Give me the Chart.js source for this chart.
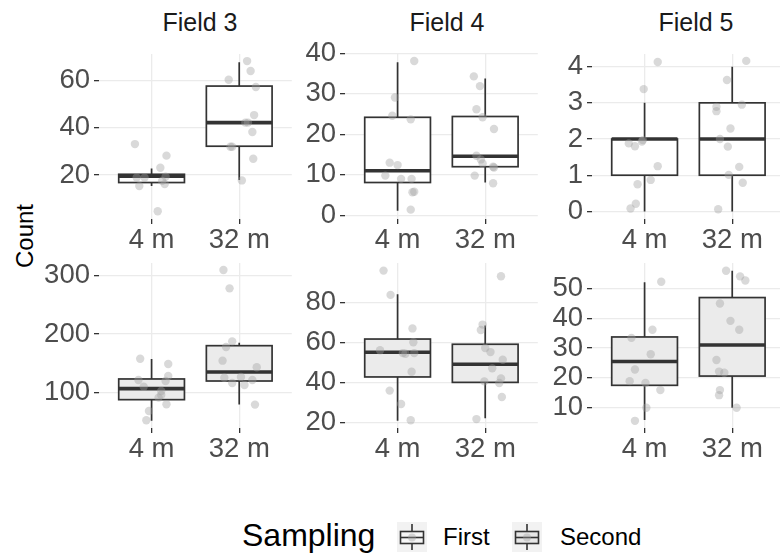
<!DOCTYPE html>
<html>
<head>
<meta charset="utf-8">
<script src="https://cdn.jsdelivr.net/npm/chart.js@4.4.1/dist/chart.umd.min.js"></script>
<style>
  html, body { margin: 0; padding: 0; background: #fff; }
  #plot { position: relative; width: 780px; height: 556px; overflow: hidden;
          font-family: "Liberation Sans", Arial, sans-serif; }
  #plot canvas.panel { position: absolute; }
  .txt { position: absolute; white-space: nowrap; line-height: 1; }
</style>
</head>
<body>
<div id="plot"></div>
<script>
// ---- categories ----
const fields = ['Field 3', 'Field 4', 'Field 5'];
const samplings = ['First', 'Second'];
const distances = ['4 m', '32 m'];

// ---- counts per plot (jitter = horizontal spread in category units) ----
// Field 3, first sampling
const f3aNear    = [33.1, 28.2, 23.1, 18.9, 18.9, 15.3, 19.3, 17.5, 16.2, 4.6];
const f3aNearJit = [-0.19, 0.17, 0.10, -0.17, -0.08, -0.14, 0.16, 0.12, 0.15, 0.07];
const f3aFar     = [68.3, 64.1, 60.4, 57.3, 45.4, 42.2, 42.2, 38.2, 32.0, 32.0, 26.9, 17.7];
const f3aFarJit  = [0.09, 0.13, -0.12, 0.19, 0.17, 0.07, 0.10, 0.15, -0.10, -0.08, 0.16, 0.03];
// Field 4, first sampling
const f4aNear    = [38.1, 29.1, 24.6, 23.7, 13.0, 12.4, 9.8, 9.0, 9.0, 5.7, 5.8, 1.4];
const f4aNearJit = [0.19, -0.03, -0.06, 0.15, -0.09, 0.00, -0.14, 0.04, 0.16, 0.17, 0.19, 0.15];
const f4aFar     = [34.3, 31.9, 26.2, 24.2, 21.3, 14.7, 13.8, 12.8, 12.0, 11.8, 9.8, 7.9];
const f4aFarJit  = [-0.13, -0.06, -0.10, -0.03, 0.10, -0.10, -0.05, -0.03, 0.09, 0.10, -0.12, 0.09];
// Field 5, first sampling
const f5aNear    = [4.13, 3.38, 1.97, 1.93, 1.88, 1.80, 1.25, 0.87, 0.75, 0.21, 0.08];
const f5aNearJit = [0.15, -0.01, -0.02, -0.03, -0.18, -0.11, 0.15, 0.07, -0.08, -0.10, -0.16];
const f5aFar     = [4.16, 3.63, 2.89, 2.77, 2.95, 2.29, 2.00, 1.79, 1.23, 1.01, 0.79, 0.06];
const f5aFarJit  = [0.16, -0.06, -0.18, -0.18, 0.11, -0.02, -0.14, -0.05, 0.08, -0.04, 0.12, -0.16];
// Field 3, second sampling
const f3bNear    = [157.7, 148.6, 121.1, 128.0, 119.4, 109.7, 102.3, 95.4, 90.9, 79.4, 68.0, 52.0];
const f3bNearJit = [-0.13, 0.19, -0.15, 0.19, 0.16, -0.09, 0.11, 0.11, 0.08, 0.17, -0.03, -0.06];
const f3bFar     = [309.7, 278.3, 187.4, 177.7, 154.3, 142.9, 125.1, 126.3, 116.0, 121.1, 112.6, 78.9];
const f3bFarJit  = [-0.18, -0.11, -0.08, -0.15, -0.19, 0.20, -0.17, 0.02, -0.08, 0.15, 0.06, 0.18];
// Field 4, second sampling
const f4bNear    = [95.8, 83.7, 67.0, 60.1, 56.1, 54.7, 54.4, 54.7, 45.4, 36.0, 29.3, 21.2];
const f4bNearJit = [-0.16, -0.08, 0.17, 0.18, -0.20, 0.06, 0.09, 0.19, 0.16, -0.09, 0.04, 0.15];
const f4bFar     = [93.0, 68.9, 66.2, 57.2, 55.2, 51.4, 47.1, 42.1, 39.8, 40.6, 32.8, 21.8];
const f4bFarJit  = [0.18, -0.03, -0.05, 0.00, 0.06, 0.20, 0.08, 0.18, 0.16, -0.01, 0.19, -0.10];
// Field 5, second sampling
const f5bNear    = [52.2, 36.1, 33.4, 27.9, 22.8, 18.9, 18.3, 15.9, 10.0, 5.6];
const f5bNearJit = [0.19, 0.09, -0.15, 0.07, -0.11, -0.17, 0.01, 0.18, 0.02, -0.11];
const f5bFar     = [55.9, 54.0, 52.6, 44.9, 39.1, 36.1, 26.0, 22.1, 21.7, 15.9, 14.2, 10.0];
const f5bFarJit  = [-0.07, 0.09, 0.15, -0.14, -0.02, 0.08, -0.18, -0.15, -0.09, -0.14, -0.15, 0.05];

// ---- box statistics: [lower whisker, Q1, median, Q3, upper whisker] ----
const f3aNearBox = [15.3, 16.8, 19.5, 20.3, 22.8];
const f3aFarBox  = [17.9, 32.2, 42.2, 57.7, 67.8];
const f4aNearBox = [1.1, 8.1, 11.0, 24.2, 37.8];
const f4aFarBox  = [8.1, 12.0, 14.6, 24.4, 33.8];
const f5aNearBox = [0, 1, 2, 2, 3];
const f5aFarBox  = [0, 1, 2, 3, 4];
const f3bNearBox = [51.4, 87.4, 106.3, 122.9, 157.1];
const f3bFarBox  = [78.9, 119.4, 134.9, 180.0, 185.1];
const f4bNearBox = [21.0, 42.8, 55.1, 61.7, 84.0];
const f4bFarBox  = [22.2, 40.1, 49.1, 59.1, 68.5];
const f5bNearBox = [5.9, 17.5, 25.5, 33.7, 52.0];
const f5bFarBox  = [10.0, 20.6, 31.0, 46.9, 55.9];

// ---- y tick labels per panel ----
const f3aTicks = [20, 40, 60];
const f4aTicks = [0, 10, 20, 30, 40];
const f5aTicks = [0, 1, 2, 3, 4];
const f3bTicks = [100, 200, 300];
const f4bTicks = [20, 40, 60, 80];
const f5bTicks = [10, 20, 30, 40, 50];

// ---- panel setup ----
const FONT = '"Liberation Sans", Arial, sans-serif';
const colLeft = [99, 345, 592];
const rowTop = [54, 263];
const panelW = 197, panelH = 165;
const axisW = 60, axisH = 40, padTop = 16;
const boxFill = ['#FFFFFF', '#EBEBEB'];

const panels = [
  { col: 0, row: 0, near: f3aNear, nearJit: f3aNearJit, far: f3aFar, farJit: f3aFarJit, boxes: [f3aNearBox, f3aFarBox], ticks: f3aTicks, min: 1.34, max: 71.3 },
  { col: 1, row: 0, near: f4aNear, nearJit: f4aNearJit, far: f4aFar, farJit: f4aFarJit, boxes: [f4aNearBox, f4aFarBox], ticks: f4aTicks, min: -0.91, max: 39.83 },
  { col: 2, row: 0, near: f5aNear, nearJit: f5aNearJit, far: f5aFar, farJit: f5aFarJit, boxes: [f5aNearBox, f5aFarBox], ticks: f5aTicks, min: -0.21, max: 4.35 },
  { col: 0, row: 1, near: f3bNear, nearJit: f3bNearJit, far: f3bFar, farJit: f3bFarJit, boxes: [f3bNearBox, f3bFarBox], ticks: f3bTicks, min: 38.8, max: 321.8 },
  { col: 1, row: 1, near: f4bNear, nearJit: f4bNearJit, far: f4bFar, farJit: f4bFarJit, boxes: [f4bNearBox, f4bFarBox], ticks: f4bTicks, min: 17.36, max: 99.6 },
  { col: 2, row: 1, near: f5bNear, nearJit: f5bNearJit, far: f5bFar, farJit: f5bFarJit, boxes: [f5bNearBox, f5bFarBox], ticks: f5bTicks, min: 3.2, max: 58.48 }
];

// Draws box-and-whisker glyphs beneath the jittered points, using the chart's scales.
const boxPlugin = {
  id: 'boxes',
  beforeDatasetsDraw(chart, args, opts) {
    const { ctx, scales: { x, y } } = chart;
    ctx.save();
    opts.stats.forEach((s, i) => {
      const pos = i + 1;
      const cx = x.getPixelForValue(pos);
      const l = x.getPixelForValue(pos - opts.width / 2);
      const r = x.getPixelForValue(pos + opts.width / 2);
      const [lo, q1, med, q3, hi] = s.map(v => y.getPixelForValue(v));
      ctx.strokeStyle = opts.line;
      ctx.lineWidth = opts.lineWidth;
      ctx.beginPath();
      ctx.moveTo(cx, q3); ctx.lineTo(cx, hi);
      ctx.moveTo(cx, q1); ctx.lineTo(cx, lo);
      ctx.stroke();
      ctx.fillStyle = opts.fill;
      ctx.fillRect(l, q3, r - l, q1 - q3);
      ctx.strokeRect(l, q3, r - l, q1 - q3);
      ctx.lineWidth = opts.medianWidth;
      ctx.beginPath();
      ctx.moveTo(l, med); ctx.lineTo(r, med);
      ctx.stroke();
    });
    ctx.restore();
  }
};

const plot = document.getElementById('plot');

function toPoints(values, jit, pos) {
  return values.map((v, i) => ({ x: pos + jit[i], y: v }));
}

const gridStyle = { color: '#EBEBEB', lineWidth: 1.3, tickColor: '#333333', tickLength: 5, tickWidth: 1.3 };

panels.forEach(p => {
  const cv = document.createElement('canvas');
  cv.className = 'panel';
  cv.width = axisW + panelW;
  cv.height = padTop + panelH + axisH;
  cv.style.left = (colLeft[p.col] - axisW) + 'px';
  cv.style.top = (rowTop[p.row] - padTop) + 'px';
  plot.appendChild(cv);

  new Chart(cv, {
    type: 'scatter',
    data: {
      datasets: [
        { data: toPoints(p.near, p.nearJit, 1) },
        { data: toPoints(p.far, p.farJit, 2) }
      ]
    },
    plugins: [boxPlugin],
    options: {
      responsive: false,
      animation: false,
      events: [],
      layout: { padding: { top: padTop, left: 0, right: 0, bottom: 0 } },
      elements: {
        point: { radius: 4.2, backgroundColor: 'rgba(160,160,160,0.4)', borderWidth: 0 }
      },
      plugins: {
        legend: { display: false },
        tooltip: { enabled: false },
        boxes: {
          stats: p.boxes, width: 0.75, fill: boxFill[p.row],
          line: '#333333', lineWidth: 1.7, medianWidth: 3.6
        }
      },
      scales: {
        x: {
          type: 'linear', min: 0.4, max: 2.6,
          afterBuildTicks: s => { s.ticks = distances.map((d, i) => ({ value: i + 1 })); },
          afterFit: s => { s.height = axisH; s.paddingLeft = 0; s.paddingRight = 0; },
          ticks: {
            callback: v => distances[Math.round(v) - 1],
            font: { size: 27.5, family: FONT }, color: '#4D4D4D',
            padding: 0, autoSkip: false, maxRotation: 0
          },
          grid: gridStyle,
          border: { display: false }
        },
        y: {
          type: 'linear', min: p.min, max: p.max,
          afterBuildTicks: s => { s.ticks = p.ticks.map(v => ({ value: v })); },
          afterFit: s => { s.width = axisW; s.paddingTop = 0; s.paddingBottom = 0; },
          ticks: {
            callback: v => String(v),
            font: { size: 27.5, family: FONT }, color: '#4D4D4D', padding: 4
          },
          grid: gridStyle,
          border: { display: false }
        }
      }
    }
  });
});

// ---- strip labels, axis title, legend ----
function addText(str, css) {
  const d = document.createElement('div');
  d.className = 'txt';
  d.textContent = str;
  Object.assign(d.style, css);
  plot.appendChild(d);
  return d;
}

const stripCenter = [200, 447, 696];
fields.forEach((f, i) => {
  addText(f, { left: (stripCenter[i] - 100) + 'px', top: '9.5px', width: '200px',
               textAlign: 'center', fontSize: '25px', color: '#1A1A1A' });
});

addText('Count', { left: '-25px', top: '224px', width: '100px', textAlign: 'center',
                   fontSize: '24px', color: '#000', transform: 'rotate(-90deg)' });

addText('Sampling', { left: '242px', top: '519px', fontSize: '32px', color: '#000' });

const keyLeft = [397, 512];
const labelLeft = [443, 560];
const keyFill = ['#F6F6F6', '#E6E6E6'];
samplings.forEach((s, i) => {
  const k = document.createElement('canvas');
  k.width = 30; k.height = 30;
  Object.assign(k.style, { position: 'absolute', left: keyLeft[i] + 'px', top: '522px' });
  plot.appendChild(k);
  const c = k.getContext('2d');
  c.fillStyle = '#F2F2F2';
  c.fillRect(0, 0, 30, 30);
  c.strokeStyle = '#333333';
  c.lineWidth = 1.6;
  c.beginPath();
  c.moveTo(15, 2); c.lineTo(15, 9.5);
  c.moveTo(15, 21.5); c.lineTo(15, 28);
  c.stroke();
  c.fillStyle = keyFill[i];
  c.fillRect(3.5, 9.5, 23, 12);
  c.strokeRect(3.5, 9.5, 23, 12);
  c.beginPath();
  c.moveTo(3.5, 15.5); c.lineTo(26.5, 15.5);
  c.stroke();
  c.fillStyle = 'rgba(160,160,160,0.4)';
  c.beginPath();
  c.arc(15, 15.5, 4, 0, Math.PI * 2);
  c.fill();
  addText(s, { left: labelLeft[i] + 'px', top: '525px', fontSize: '24px', color: '#000' });
});
</script>
</body>
</html>
